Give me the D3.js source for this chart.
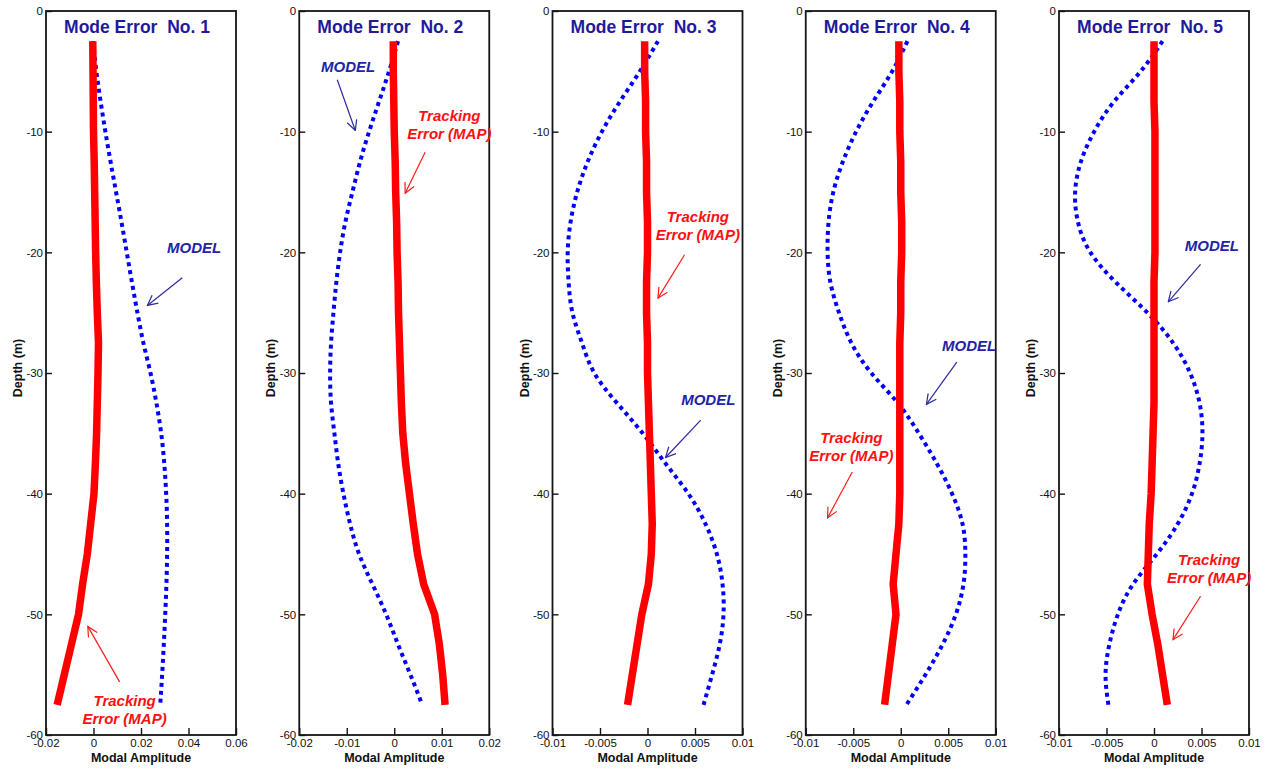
<!DOCTYPE html>
<html>
<head>
<meta charset="utf-8">
<script src="https://cdn.jsdelivr.net/npm/d3@7"></script>
<style>
  body { margin: 0; background: #fff; }
  text { font-family: "Liberation Sans", Arial, sans-serif; }
</style>
</head>
<body>
<svg width="1270" height="769"></svg>
<script>
// depth samples (m)
const depth = [-2.5, -5, -7.5, -10, -12.5, -15, -17.5, -20, -22.5, -25, -27.5, -30,
               -32.5, -35, -37.5, -40, -42.5, -45, -47.5, -50, -52.5, -55, -57.5];

const titles = ["Mode Error  No. 1", "Mode Error  No. 2", "Mode Error  No. 3",
                "Mode Error  No. 4", "Mode Error  No. 5"];

const xDomains = [[-0.02, 0.06], [-0.02, 0.02], [-0.01, 0.01], [-0.01, 0.01], [-0.01, 0.01]];
const xTicks = [[-0.02, 0, 0.02, 0.04, 0.06],
                [-0.02, -0.01, 0, 0.01, 0.02],
                [-0.01, -0.005, 0, 0.005, 0.01],
                [-0.01, -0.005, 0, 0.005, 0.01],
                [-0.01, -0.005, 0, 0.005, 0.01]];
const yTicks = [0, -10, -20, -30, -40, -50, -60];

// MODEL (blue dotted)
const model1 = [-0.0002, 0.0012, 0.0030, 0.0050, 0.0072, 0.0095, 0.0118, 0.0140, 0.0162, 0.0185, 0.0210, 0.0240,
                0.0265, 0.0285, 0.0298, 0.0306, 0.0310, 0.0310, 0.0307, 0.0302, 0.0296, 0.0289, 0.0281];
const model2 = [0.0008, -0.0011, -0.0032, -0.0053, -0.0072, -0.0088, -0.0103, -0.0114, -0.0122, -0.0128, -0.0133, -0.0135,
                -0.0133, -0.0126, -0.0118, -0.0107, -0.0093, -0.0074, -0.0046, -0.0017, 0.0008, 0.0034, 0.0059];
const model3 = [0.0011, -0.0008, -0.0029, -0.0048, -0.0063, -0.0074, -0.0081, -0.0084, -0.0083, -0.0079, -0.0069, -0.0056,
                -0.0032, -0.0005, 0.0019, 0.0043, 0.0061, 0.0073, 0.0079, 0.0080, 0.0076, 0.0068, 0.0059];
const model4 = [0.0007, -0.0009, -0.0029, -0.0047, -0.0061, -0.0071, -0.0076, -0.0077, -0.0074, -0.0065, -0.0052, -0.0031,
                -0.0003, 0.0019, 0.0038, 0.0054, 0.0065, 0.0068, 0.0066, 0.0058, 0.0044, 0.0026, 0.0006];
const model5 = [0.0009, -0.0014, -0.0042, -0.0063, -0.0077, -0.0083, -0.0080, -0.0067, -0.0040, -0.0007, 0.0020, 0.0038,
                0.0048, 0.0051, 0.0048, 0.0040, 0.0025, 0.0003, -0.0022, -0.0038, -0.0047, -0.0051, -0.0048];

// Tracking Error (MAP) (red thick)
const map1 = [-0.0003, -0.0002, -0.0001, 0.0000, 0.0003, 0.0005, 0.0007, 0.0009, 0.0012, 0.0016, 0.0021, 0.0019,
              0.0016, 0.0013, 0.0008, 0.0002, -0.0012, -0.0026, -0.0046, -0.0063, -0.0093, -0.0123, -0.0153];
const map2 = [-0.0002, -0.0002, -0.0001, 0.0000, 0.0002, 0.0003, 0.0005, 0.0006, 0.0008, 0.0009, 0.0011, 0.0013,
              0.0015, 0.0018, 0.0024, 0.0032, 0.0040, 0.0049, 0.0062, 0.0085, 0.0095, 0.0102, 0.0107];
const map3 = [-0.0003, -0.0003, -0.0002, -0.0002, -0.0001, -0.0001, 0.0000, 0.0000, -0.0001, -0.0001, 0.0000, 0.0000,
              0.0001, 0.0002, 0.0003, 0.0004, 0.0005, 0.0004, 0.0001, -0.0006, -0.0011, -0.0016, -0.0021];
const map4 = [-0.0002, -0.0002, -0.0001, -0.0001, 0.0000, 0.0000, 0.0001, 0.0001, 0.0000, 0.0000, -0.0001, -0.0001,
              -0.0001, -0.0001, -0.0001, -0.0001, -0.0002, -0.0005, -0.0008, -0.0005, -0.0009, -0.0013, -0.0017];
const map5 = [0.0000, 0.0000, 0.0000, 0.0001, 0.0001, 0.0001, 0.0001, 0.0001, 0.0000, 0.0000, 0.0000, 0.0000,
              0.0000, -0.0001, -0.0002, -0.0003, -0.0005, -0.0006, -0.0007, -0.0002, 0.0004, 0.0009, 0.0014];

const models = [model1, model2, model3, model4, model5];
const maps = [map1, map2, map3, map4, map5];

// annotation anchors in data units [amplitude, depth]
const modelLabel = [[0.0424, -19.6], [-0.0097, -4.6], [0.0064, -32.2], [0.0072, -27.8], [0.0061, -19.5]];
const modelArrow = [[[0.0374, -22.1], [0.0227, -24.4]],
                    [[-0.0120, -5.7], [-0.0082, -9.9]],
                    [[0.0056, -33.9], [0.0019, -37.0]],
                    [[0.0059, -29.1], [0.0027, -32.6]],
                    [[0.0049, -21.0], [0.0015, -24.1]]];
const mapLabel = [[0.0131, -57.2], [0.0116, -8.7], [0.0053, -17.1], [-0.0052, -35.4], [0.0058, -45.5]];
const mapArrow = [[[0.0110, -55.6], [-0.0024, -51.0]],
                  [[0.0065, -11.7], [0.0023, -15.1]],
                  [[0.0039, -20.2], [0.0011, -23.8]],
                  [[-0.0051, -38.2], [-0.0077, -42.0]],
                  [[0.0049, -48.5], [0.0020, -52.1]]];

const svg = d3.select("svg");
const top0 = 11, bottom0 = 735, pw = 190;
const navy = "#1f1a9c";

const defs = svg.append("defs");
[["arrNavy", "#2b2b9e"], ["arrRed", "#ff1a1a"]].forEach(([id, c]) => {
    defs.append("marker")
        .attr("id", id)
        .attr("viewBox", "0 0 12 12")
        .attr("refX", 11).attr("refY", 6)
        .attr("markerWidth", 12).attr("markerHeight", 12)
        .attr("markerUnits", "userSpaceOnUse")
        .attr("orient", "auto")
        .append("path")
        .attr("d", "M1,1 L11,6 L1,11")
        .attr("fill", "none")
        .attr("stroke", c)
        .attr("stroke-width", 1.2);
});

const fmt = d => String(d);

for (let i = 0; i < 5; i++) {
    const left = 46 + i * 253.25;
    const x = d3.scaleLinear().domain(xDomains[i]).range([left, left + pw]);
    const y = d3.scaleLinear().domain([0, -60]).range([top0, bottom0]);
    const g = svg.append("g");

    // axes
    const xa = g.append("g")
        .attr("transform", `translate(0,${bottom0})`)
        .call(d3.axisBottom(x).tickValues(xTicks[i]).tickSize(-7).tickPadding(4).tickFormat(fmt));
    const ya = g.append("g")
        .attr("transform", `translate(${left},0)`)
        .call(d3.axisLeft(y).tickValues(yTicks).tickSize(-6).tickPadding(3).tickFormat(fmt));
    [xa, ya].forEach(a => {
        a.select(".domain").remove();
        a.selectAll("line").attr("stroke", "#111").attr("stroke-width", 1.4);
        a.selectAll("text").attr("fill", "#111").style("font-size", "11.5px")
            .style("font-family", "'Liberation Sans', Arial, sans-serif");
    });

    g.append("rect")
        .attr("x", left).attr("y", top0)
        .attr("width", pw).attr("height", bottom0 - top0)
        .attr("fill", "none").attr("stroke", "#151515").attr("stroke-width", 1.8);

    // axis labels
    g.append("text")
        .attr("x", left + pw / 2).attr("y", 762)
        .attr("text-anchor", "middle")
        .style("font-size", "12.5px").style("font-weight", "bold").attr("fill", "#111")
        .text("Modal Amplitude");
    g.append("text")
        .attr("transform", `translate(${left - 24},${(top0 + bottom0) / 2 - 5}) rotate(-90)`)
        .attr("text-anchor", "middle")
        .style("font-size", "12.5px").style("font-weight", "bold").attr("fill", "#111")
        .text("Depth (m)");

    // title
    g.append("text")
        .attr("x", left + pw / 2 - 4).attr("y", 33)
        .attr("text-anchor", "middle")
        .style("font-size", "17.5px").style("font-weight", "bold")
        .style("white-space", "pre")
        .attr("fill", navy)
        .text(titles[i]);

    // lines
    const line = d3.line().x(d => x(d[0])).y(d => y(d[1]));
    g.append("path")
        .datum(models[i].map((v, k) => [v, depth[k]]))
        .attr("d", line.curve(d3.curveNatural))
        .attr("fill", "none")
        .attr("stroke", "#0000ff")
        .attr("stroke-width", 4)
        .attr("stroke-dasharray", "4,4");
    g.append("path")
        .datum(maps[i].map((v, k) => [v, depth[k]]))
        .attr("d", d3.line().x(d => x(d[0])).y(d => y(d[1])))
        .attr("fill", "none")
        .attr("stroke", "#ff0000")
        .attr("stroke-width", 7.5);

    // annotations
    g.append("text")
        .attr("x", x(modelLabel[i][0])).attr("y", y(modelLabel[i][1]) + 5)
        .attr("text-anchor", "middle")
        .style("font-size", "15px").style("font-weight", "bold").style("font-style", "italic")
        .attr("fill", "#2323a8")
        .text("MODEL");
    g.append("line")
        .attr("x1", x(modelArrow[i][0][0])).attr("y1", y(modelArrow[i][0][1]))
        .attr("x2", x(modelArrow[i][1][0])).attr("y2", y(modelArrow[i][1][1]))
        .attr("stroke", "#2b2b9e").attr("stroke-width", 1.2)
        .attr("marker-end", "url(#arrNavy)");

    const mt = g.append("text")
        .attr("text-anchor", "middle")
        .style("font-size", "15px").style("font-weight", "bold").style("font-style", "italic")
        .attr("fill", "#ff1010");
    mt.append("tspan")
        .attr("x", x(mapLabel[i][0])).attr("y", y(mapLabel[i][1]) + 5)
        .text("Tracking");
    mt.append("tspan")
        .attr("x", x(mapLabel[i][0])).attr("y", y(mapLabel[i][1]) + 23)
        .text("Error (MAP)");
    g.append("line")
        .attr("x1", x(mapArrow[i][0][0])).attr("y1", y(mapArrow[i][0][1]))
        .attr("x2", x(mapArrow[i][1][0])).attr("y2", y(mapArrow[i][1][1]))
        .attr("stroke", "#ff1a1a").attr("stroke-width", 1.2)
        .attr("marker-end", "url(#arrRed)");
}
</script>
</body>
</html>
